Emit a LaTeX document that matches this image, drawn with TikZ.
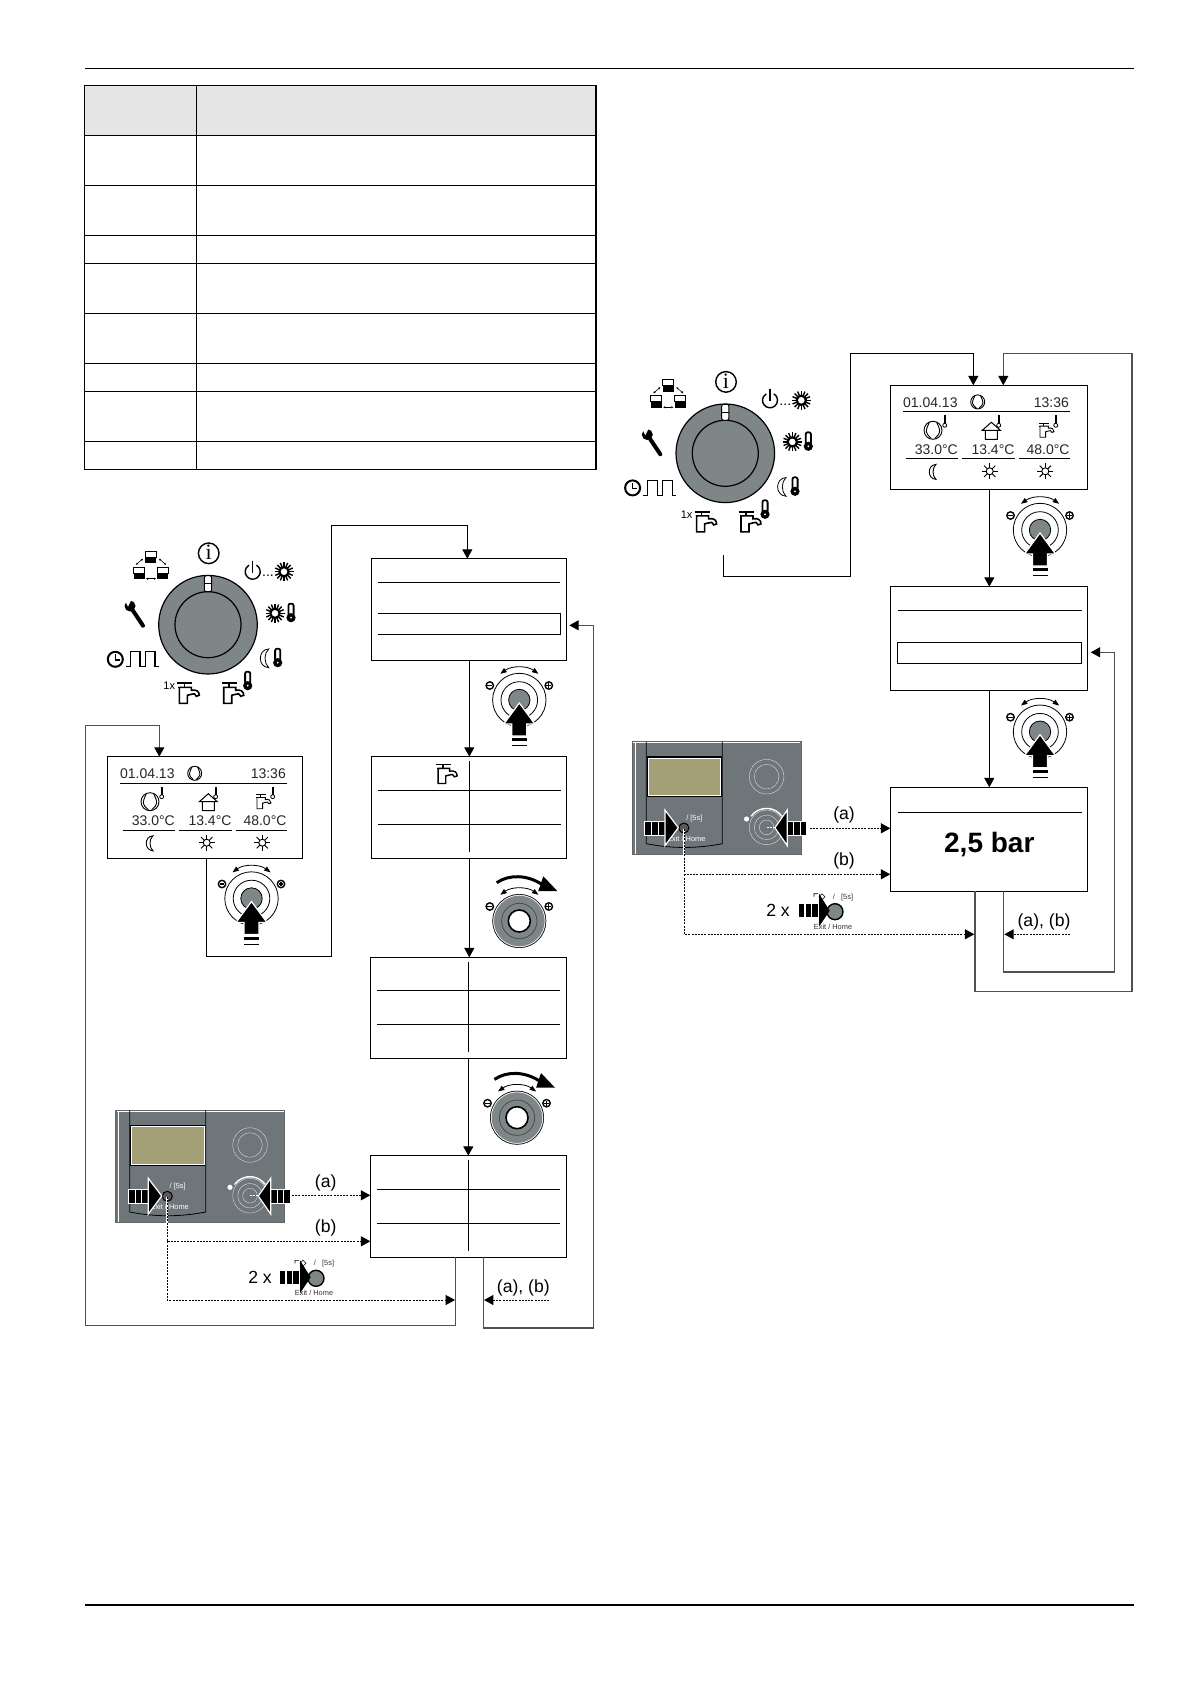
\documentclass[tikz,border=0pt]{standalone}
\usepackage{fontspec}
\setmainfont{Liberation Sans}
\newfontfamily\infofont{Liberation Serif}
\usetikzlibrary{arrows.meta}
\definecolor{knobgray}{HTML}{7F8688}
\definecolor{panelgray}{HTML}{6F767A}
\definecolor{lcdolive}{HTML}{A3A077}
\definecolor{loopgray}{HTML}{505050}
\newcommand{\lcdfont}{\fontsize{7}{8}\selectfont}
\newcommand{\lblfont}{\fontsize{8.8}{10}\selectfont}
\newcommand{\tinyfont}{\fontsize{3.7}{4}\selectfont}
\tikzset{
  scrbox/.style={draw,rectangle,anchor=north west,inner sep=0pt,outer sep=0pt,line width=.55pt,minimum width=97.5pt,minimum height=50.8pt},
  scrboxw/.style={scrbox,minimum width=98.7pt,minimum height=52pt},
  rulethin/.style={line width=.5pt},
  dotline/.style={line width=.5pt,dash pattern=on 1pt off .6pt},
  loopline/.style={line width=.55pt,draw=loopgray},
  lbl/.style={inner sep=0pt,font=\lblfont},
  lcdtxt/.style={inner sep=0pt,text=black!85,font=\lcdfont},
  pics/ltherm/.style={code={
    \fill (-1,-10) rectangle (1,-2);
    \draw[line width=.4pt] (0,0) circle[radius=2];
  }},
  pics/dtherm/.style={code={
    \filldraw[fill=white,line width=.9pt,rounded corners=1pt] (-2.6,-9) rectangle (2.6,3);
    \fill (0,5) circle[radius=4.6];
    \fill[white] (0,5) circle[radius=1];
  }},
  pics/sunicon/.style={code={
    \foreach \a in {0,45,...,315} \draw[line width=#1] (\a:3.5) -- (\a:8);
    \draw[line width=#1] (0,0) circle[radius=3.5];
  }},
  pics/boldsun/.style={code={
    \foreach \a in {0,22.5,...,337.5} \draw[line width=.7pt] (\a:4) -- (\a:9.5);
    \filldraw[fill=white,line width=1.1pt] (0,0) circle[radius=4.6];
  }},
  pics/moonicon/.style={code={
    \draw[line width=#1] (3,-7.5) .. controls (-6,-7) and (-6,7) .. (3,7.5) .. controls (-1,4) and (-1,-4) .. (3,-7.5) -- cycle;
  }},
  pics/tapicon/.style={code={
    \draw[line width=#1+.2pt] (-11,-10) -- (4,-10);
    \draw[line width=#1] (-4,-10) -- (-4,-6) (-10,-6) -- (3,-6);
    \draw[line width=#1,fill=white] (-9,-6) -- (-9,10) -- (-1,10) -- (-1,2) -- (3,1) .. controls (6,0) .. (8,3) -- (11,2) .. controls (11,-2) and (8,-4) .. (3,-3) -- (3,-6) -- cycle;
  }},
  pics/compicon/.style={code={
    \draw[line width=.45pt] (0,0) circle[radius=#1];
    \draw[line width=.45pt] (-.4*#1,-.9*#1) .. controls (-.9*#1,.2*#1) .. (-.2*#1,.9*#1) (.4*#1,-.9*#1) .. controls (.9*#1,.2*#1) .. (.2*#1,.9*#1);
  }},
  pics/houseicon/.style={code={
    \draw[line width=.5pt] (-9,0) -- (0,-8) -- (9,0) -- cycle (-6,0) rectangle (6,9);
  }},
  pics/gridlines/.style={code={
    \draw[rulethin] (7,33.6) -- (190,33.6) (7,67.6) -- (190,67.6) (98,4.3) -- (98,95);
  }},
  % home screen of the display, origin at its top left corner
  pics/lcdview/.style={code={
    \node[lcdtxt] (-date) at (40,17.3) {01.04.13};
    \node[lcdtxt] (-time) at (161,17.3) {13:36};
    \node[lcdtxt] (-tempA) at (46,64) {33.0°C};
    \node[lcdtxt] (-tempB) at (102.7,64) {13.4°C};
    \node[lcdtxt] (-tempC) at (157.7,64) {48.0°C};
    \pic at (87.4,16.6) {compicon=7};
    \draw[rulethin] (12.7,26.6) -- (179.4,26.6) (15.4,73.3) -- (67.7,73.3) (71.7,73.3) -- (124.4,73.3) (128.7,73.3) -- (179.4,73.3);
    \pic at (42.7,45) {compicon=9};
    \pic at (54.4,40) {ltherm};
    \pic at (101,45) {houseicon};
    \pic at (108.4,40) {ltherm};
    \pic[scale=.7] at (156,45) {tapicon=.45pt};
    \pic at (165.4,40) {ltherm};
    \pic at (42.7,86.6) {moonicon=.45pt};
    \pic at (99.4,86) {sunicon=.45pt};
    \pic at (155,86) {sunicon=.45pt};
  }},
  % selector dial with its icons, origin at the centre
  pics/dialset/.style={code={
    \filldraw[fill=knobgray,line width=.6pt] (0,0) circle[radius=49.3];
    \draw[line width=.6pt] (0,0) circle[radius=33];
    \filldraw[fill=white,line width=.5pt,rounded corners=1pt] (-3.6,-49) rectangle (3.6,-33);
    \draw[line width=.5pt] (-3.6,-41) -- (3.6,-41);
    % info
    \draw[line width=.7pt] (.7,-71.4) circle[radius=10.3];
    \node[inner sep=0pt,font=\infofont\fontsize{11}{11}\selectfont] (-info) at (.7,-72) {i};
    % network
    \foreach \p in {(-57.3,-67.4),(-69,-51.4),(-45.3,-51.4)} {
      \begin{scope}[shift={\p}]
        \draw[line width=.5pt] (-5.5,-6) rectangle (5.5,0);
        \fill (-5.5,0) rectangle (5.5,6);
      \end{scope}
    }
    \draw[line width=.3pt,<->,>={Triangle[length=1pt,width=1pt]}] (-62,-46) -- (-52,-46);
    \draw[line width=.3pt,<->,>={Triangle[length=1pt,width=1pt]}] (-72,-60) -- (-65,-66);
    \draw[line width=.3pt,<->,>={Triangle[length=1pt,width=1pt]}] (-49,-66) -- (-42,-60);
    % on / off
    \draw[line width=.7pt] (48.45,-59.5) arc[start angle=-60,end angle=240,radius=7.5];
    \draw[line width=.7pt] (44.7,-64) -- (44.7,-52);
    \node[inner sep=0pt,font=\fontsize{7}{7}\selectfont] (-dots) at (60,-49) {...};
    \pic at (76,-53) {boldsun};
    \pic at (67,-11.4) {boldsun};
    \pic at (83,-12) {dtherm};
    \pic[scale=1.25] at (57,33.6) {moonicon=.4pt};
    \pic at (69.7,33) {dtherm};
    \pic at (24.7,68.6) {tapicon=.8pt};
    \pic at (39.7,56) {dtherm};
    \node[inner sep=0pt,font=\fontsize{5.5}{6}\selectfont] (-once) at (-38.7,61.3) {1x};
    \pic at (-19.7,68.6) {tapicon=.8pt};
    % clock and pulse
    \draw[line width=1pt] (-92.7,34.6) circle[radius=7.5];
    \draw[line width=.8pt] (-92.7,29.6) -- (-92.7,35) -- (-88,35);
    \draw[line width=.6pt] (-82,42) -- (-77.7,42) -- (-77.7,27) -- (-68,27) -- (-68,42) -- (-62.7,42) -- (-62.7,27) -- (-53,27) -- (-53,42) -- (-49,42);
    % wrench
    \draw[line width=2pt,line cap=round] (-75,-14) -- (-65,1);
    \fill (-78,-18.7) circle[radius=5.5];
    \fill[white] (-80,-18) -- (-84,-26) -- (-76,-26) -- cycle;
  }},
  % knob with its minus and plus signs, origin at the centre
  pics/knobmarks/.style={code={
    \draw[line width=.4pt,<->,>={Triangle[length=3.2pt,width=2.4pt]}] (-19,-26.2) arc[start angle=-126,end angle=-54,radius=32.4];
    \filldraw[fill=white,line width=.7pt] (-29.5,-14.5) circle[radius=3.7] (29.5,-14.5) circle[radius=3.7];
    \draw[line width=.6pt] (-31.9,-14.5) -- (-27.1,-14.5) (27.1,-14.5) -- (31.9,-14.5) (29.5,-16.9) -- (29.5,-12.1);
  }},
  pics/pressknob/.style={code={
    \pic {knobmarks};
    \draw[line width=.4pt] (0,0) circle[radius=26.7] (0,0) circle[radius=18.3];
    \filldraw[fill=knobgray,line width=.4pt] (0,0) circle[radius=10.7];
    \filldraw[fill=black,draw=white,line width=.6pt] (0,3) -- (15.5,24) -- (7.5,24) -- (7.5,36) -- (-7.5,36) -- (-7.5,24) -- (-15.5,24) -- cycle;
    \fill (-7.5,38) rectangle (7.5,41);
    \draw[line width=.5pt] (-7.5,45.5) -- (7.5,45.5);
  }},
  pics/turnknob/.style={code={
    \pic {knobmarks};
    \filldraw[fill=knobgray,line width=.3pt] (0,0) circle[radius=26.7];
    \draw[white,line width=.3pt] (0,0) circle[radius=25.7];
    \draw[line width=.4pt,draw=black!70] (0,0) circle[radius=17.7];
    \filldraw[fill=white,line width=.8pt] (0,0) circle[radius=11];
    \draw[line width=1.5pt] (-22.6,-38.3) .. controls (-10,-47) and (8,-46) .. (22,-37);
    \fill (24,-44.7) -- (38,-30) -- (19,-30) -- cycle;
  }},
  % control panel, origin at its top left corner
  pics/panelview/.style={code={
    \filldraw[fill=panelgray,draw=black!60,line width=.5pt] (0,0) rectangle (169,112.7);
    \draw[white,line width=.3pt] (1,1) -- (168,1) (2.5,1) -- (2.5,112);
    \draw[line width=.4pt] (14,0) -- (14,102) .. controls (40,107) and (64,107) .. (90,102) -- (90,0);
    \filldraw[fill=lcdolive,line width=.7pt] (15,15.3) rectangle (89,55);
    \draw[white,line width=.3pt] (15.8,16.4) -- (88.2,16.4) -- (88.2,54) -- (15.8,54) -- cycle;
    \draw[black!15,line width=.2pt] (134.3,35) circle[radius=17.3] (134.3,35) circle[radius=12.3];
    \draw[black!15,line width=.2pt] (134.3,85.7) circle[radius=17.3] (134.3,85.7) circle[radius=12.3] (134.3,85.7) circle[radius=7.3];
    \draw[white,line width=.7pt] (118.8,74.5) arc[start angle=-144,end angle=-36,radius=19];
    \fill[white] (114.3,77.3) circle[radius=2.6];
    \draw[white,line width=.5pt,dash pattern=on 1pt off .6pt] (134.3,85.7) -- (146,85.7);
    \node[white,inner sep=0pt,font=\tinyfont] (-time) at (62,77) {/ [5s]};
    \node[white,inner sep=0pt,font=\tinyfont] (-exit) at (54,97) {Exit / Home};
    \filldraw[fill=black!65,line width=.5pt] (51.6,86.3) circle[radius=5];
    \foreach \b in {0,1,2} \filldraw[fill=black,draw=white,line width=.5pt] (12.6+\b*6.7,79.3) rectangle ++(6.7,14);
    \filldraw[fill=black,draw=white,line width=.6pt] (32.6,68.3) -- (46,86) -- (32.6,104) -- cycle;
    \foreach \b in {0,1,2} \filldraw[fill=black,draw=white,line width=.5pt] (155+\b*6.5,79.3) rectangle ++(6.5,14);
    \filldraw[fill=black,draw=white,line width=.6pt] (155,68.3) -- (142.6,86) -- (155,104) -- cycle;
  }},
  % exit button on its own, origin at the centre of the button
  pics/exitbtn/.style={code={
    \node[inner sep=0pt,text=black!80,font=\tinyfont] (-time) at (8,-14.5) {/ \ \ [5s]};
    \node[inner sep=0pt,text=black!80,font=\tinyfont] (-exit) at (-2,15) {Exit / Home};
    \draw[line width=.3pt] (-21,-15) -- (-21,-18) -- (-17,-18) (-13,-18) -- (-10,-15) -- (-13,-12) -- (-16,-15) -- cycle;
    \filldraw[fill=knobgray,line width=.7pt] (0,0) circle[radius=8];
    \foreach \b in {0,1,2} \fill (-36+\b*6.7,-7.3) rectangle ++(5.4,13);
    \fill (-16,-18) -- (-5.3,-1) -- (-16,15) -- cycle;
  }},
}
\begin{document}
\begin{tikzpicture}[x=.5pt,y=-.5pt,>={Triangle[length=4.7pt,width=5pt,color=black]},line width=.55pt]
  \path[use as bounding box] (0,0) rectangle (1190,1684);
  % page rules
  \draw[line width=.6pt] (85,68.3) -- (1134,68.3);
  \draw[line width=.6pt] (85,1605) -- (1134,1605);
  % table
  \fill[black!10] (84.8,85.3) rectangle (596,135.3);
  \draw[line width=.65pt] (84.8,85.3) rectangle (596,469.3);
  \draw[line width=.65pt] (196.5,85.3) -- (196.5,469.3);
  \foreach \r in {135.3,185.3,235.3,263.3,313.3,363.3,391.3,441.3}
    \draw[line width=.65pt] (84.8,\r) -- (596,\r);

  % left flow
  \pic at (208,624.7) {dialset};
  \node[scrbox] (scrA) at (371.3,558.7) {};
  \node[scrbox] (scrB) at (371.3,756.7) {};
  \node[scrbox,minimum width=98pt] (scrC) at (370.3,957.3) {};
  \node[scrbox,minimum width=98pt] (scrD) at (370.3,1155.7) {};
  \node[scrbox] (scrE) at (107.3,756.7) {};
  \pic (lcdE) at (107.3,756.7) {lcdview};
  \draw[rulethin] (378,582.3) -- (560,582.3);
  \draw[rulethin] (378,613.3) -- (560.7,613.3) -- (560.7,634.7) -- (378,634.7);
  \pic at (371.3,756.7) {gridlines};
  \pic at (370.3,957.3) {gridlines};
  \pic at (370.3,1155.7) {gridlines};
  \pic[scale=.95] at (446.7,774) {tapicon=.7pt};
  \pic at (251.5,898.5) {pressknob};
  \pic at (519.3,700) {pressknob};
  \pic at (519.3,921) {turnknob};
  \pic at (517,1117.7) {turnknob};
  \pic at (115.7,1110) {panelview};
  \pic (exitL) at (316,1278.3) {exitbtn};
  \node[lbl] (twoL) at (260,1277) {2 x};
  \node[lbl] (lblaL) at (325.7,1182.7) {(a)};
  \node[lbl] (lblbL) at (325.7,1228.3) {(b)};
  \node[lbl] (lblabL) at (523.3,1288.3) {(a), (b)};
  \coordinate (btnL) at (167.3,1197);
  \coordinate (pushL) at (292,1195.3);
  \coordinate (freeL) at (549.3,1300);
  \coordinate (backA) at (569.3,625.3);
  \path[->] (469.3,0 |- scrA.south) edge (469.3,0 |- scrB.north);
  \path[->] (469.3,0 |- scrB.south) edge (469.3,0 |- scrC.north);
  \path[->] (468.3,0 |- scrC.south) edge (468.3,0 |- scrD.north);
  \draw[->] (206.7,0 |- scrE.south) |- (331.3,956.3) |- (467.3,525.3) -- (467.3,0 |- scrA.north);
  \draw[->,loopline] (455.3,0 |- scrD.south) |- (85.7,1325.7) |- (159.3,725.7) -- (159.3,0 |- scrE.north);
  \draw[->,loopline] (483.3,0 |- scrD.south) |- (593.3,1328) |- (backA);
  \draw[white,line width=1pt] (btnL) -- (167.3,1222.7);
  \draw[->,dotline] (pushL) -- (pushL -| scrD.west);
  \draw[->,dotline] (btnL) |- (167.3,1241.3) -- (scrD.west |- 0,1241.3);
  \draw[->,dotline] (167.3,1241.3) |- (455,1300);
  \draw[->,dotline] (freeL) -- (484,1300);

  % right flow
  \pic at (725.3,453.3) {dialset};
  \node[scrboxw] (scrF) at (890.3,385.3) {};
  \node[scrboxw] (scrG) at (890.3,586.7) {};
  \node[scrboxw] (scrH) at (890.3,787.3) {};
  \node[inner sep=0pt,font=\fontsize{14}{16}\selectfont\bfseries] (valH) at (989.3,844.7) {2,5 bar};
  \pic (lcdF) at (890.3,385.3) {lcdview};
  \draw[rulethin] (898,610.3) -- (1082,610.3);
  \draw[rulethin] (897.3,642.3) rectangle (1081.7,663.3);
  \draw[rulethin] (898,812.3) -- (1082,812.3);
  \pic at (1040,530) {pressknob};
  \pic at (1040,731.7) {pressknob};
  \pic at (632.3,741.7) {panelview};
  \pic (exitR) at (835,911.7) {exitbtn};
  \node[lbl] (twoR) at (778,910.3) {2 x};
  \node[lbl] (lblaR) at (844,815.3) {(a)};
  \node[lbl] (lblbR) at (844,861.3) {(b)};
  \node[lbl] (lblabR) at (1044,921.7) {(a), (b)};
  \coordinate (dialend) at (723.3,555);
  \coordinate (btnR) at (684.3,828.7);
  \coordinate (pushR) at (810,828.3);
  \coordinate (freeR) at (1070,934.3);
  \coordinate (backG) at (1090.7,652.3);
  \path[->] (989.3,0 |- scrF.south) edge (989.3,0 |- scrG.north);
  \path[->] (989.3,0 |- scrG.south) edge (989.3,0 |- scrH.north);
  \draw[->] (dialend) |- (850.3,576.3) |- (973.3,353.3) -- (973.3,0 |- scrF.north);
  \draw[->,loopline] (975,0 |- scrH.south) |- (1132,991.3) |- (1003.3,353.3) -- (1003.3,0 |- scrF.north);
  \draw[->,loopline] (1003.7,0 |- scrH.south) |- (1114.3,972) |- (backG);
  \draw[white,line width=1pt] (btnR) -- (684.3,855.3);
  \draw[->,dotline] (pushR) -- (pushR -| scrH.west);
  \draw[->,dotline] (btnR) |- (684.3,874.3) -- (scrH.west |- 0,874.3);
  \draw[->,dotline] (684.3,874.3) |- (974.3,934.3);
  \draw[->,dotline] (freeR) -- (1004.3,934.3);
\end{tikzpicture}
\end{document}
